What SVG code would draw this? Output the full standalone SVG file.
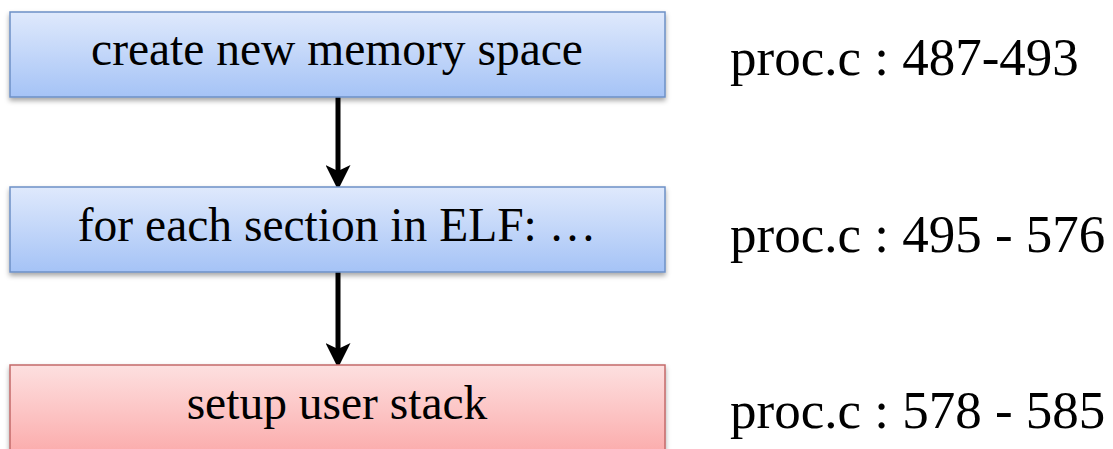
<svg xmlns="http://www.w3.org/2000/svg" width="1113" height="449" viewBox="0 0 1113 449">
<style>
.t{font-family:"Liberation Serif","Times New Roman",serif;fill:#000}
.bt{font-size:47.5px;text-anchor:middle}
.lt{font-size:53px}
.blue{fill:url(#gb);stroke:#6d90c6;stroke-width:1.5}
.red{fill:url(#gr);stroke:#c46a6a;stroke-width:1.5}
.con{stroke:#000;stroke-width:5;fill:none;marker-end:url(#ah)}
</style>
<defs>
<linearGradient id="gb" x1="0" y1="0" x2="0" y2="1">
<stop offset="0" stop-color="#dfe9fc"/><stop offset="1" stop-color="#a5c3f6"/>
</linearGradient>
<linearGradient id="gr" x1="0" y1="0" x2="0" y2="1">
<stop offset="0" stop-color="#fde0e0"/><stop offset="1" stop-color="#fba5a5"/>
</linearGradient>
<filter id="sh" x="-5%" y="-10%" width="110%" height="130%">
<feDropShadow dx="0" dy="3" stdDeviation="2.5" flood-color="#000" flood-opacity="0.35"/>
</filter>
<marker id="ah" markerWidth="5" markerHeight="5" refX="3.6" refY="2.5" orient="auto" markerUnits="strokeWidth">
<path d="M0,0 L5,2.5 L0,5 L1.2,2.5 Z" fill="#000"/>
</marker>
</defs>
<g id="connectors">
<line class="con" x1="338" y1="97" x2="338" y2="183"/>
<line class="con" x1="338" y1="272" x2="338" y2="361"/>
</g>
<g id="node1">
<rect class="blue" x="10" y="12" width="655" height="85" filter="url(#sh)"/>
<text class="t bt" x="337" y="65">create new memory space</text>
</g>
<g id="node2">
<rect class="blue" x="10" y="187" width="655" height="85" filter="url(#sh)"/>
<text class="t bt" x="337" y="241">for each section in ELF: …</text>
</g>
<g id="node3">
<rect class="red" x="10" y="365" width="655" height="100" filter="url(#sh)"/>
<text class="t bt" x="337" y="419">setup user stack</text>
</g>
<g id="labels">
<text class="t lt" x="730" y="75">proc.c : 487-493</text>
<text class="t lt" x="730" y="252">proc.c : 495 - 576</text>
<text class="t lt" x="730" y="428">proc.c : 578 - 585</text>
</g>
</svg>
